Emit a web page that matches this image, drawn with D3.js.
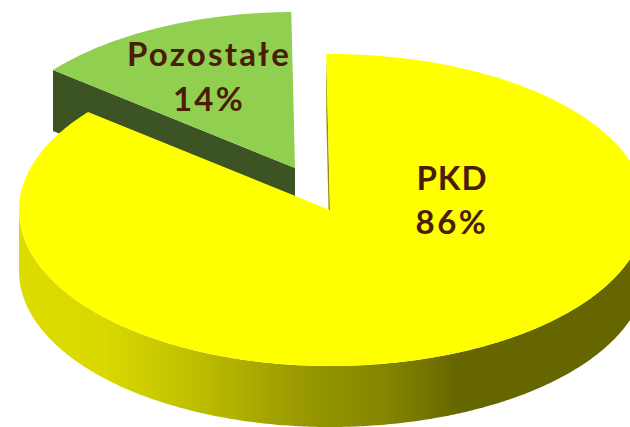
<!DOCTYPE html>
<html><head><meta charset="utf-8">
<script src="https://cdnjs.cloudflare.com/ajax/libs/d3/7.8.5/d3.min.js"></script>
<style>html,body{margin:0;padding:0;background:#fff;overflow:hidden}svg{display:block}</style>
</head><body>
<script>
const categories = ["PKD", "Pozostałe"];
const values = [86, 14];
const pctLabels = ["86%", "14%"];

(function () {
const W = 630, H = 427, depth = 61;
const rxLeft = 311, rxRight = 316, ry = 156, rot = -0.012;
const layout = [
  {cx: 330, cy: 210, fill: "#ffff00", tx: 452, ty1: 190, ty2: 234, ls: [1, 2.5]},
  {cx: 295, cy: 168, fill: "#90cf50", wall: "#3c5323", tx: 209, ty1: 66, ty2: 111, ls: [2.2, 2.2]}
];
const pie = d3.pie().sort(null).startAngle(rot).endAngle(rot + 2 * Math.PI);
const arcs = pie(values);
const svg = d3.select("body").append("svg").attr("width", W).attr("height", H);

const grad = svg.append("defs").append("linearGradient").attr("id", "wallGrad")
  .attr("gradientUnits", "userSpaceOnUse").attr("x1", 19).attr("x2", 630).attr("y1", 0).attr("y2", 0);
[[0, "#dcdc00"], [0.14, "#d9d900"], [0.3, "#bcbc00"], [0.46, "#999900"], [0.6, "#858500"], [0.72, "#666600"], [1, "#666600"]]
  .forEach(([o, c]) => grad.append("stop").attr("offset", o).attr("stop-color", c));

const rim = (l, a, dy = 0) => {
  const s = Math.sin(a);
  return [l.cx + (s > 0 ? rxRight : rxLeft) * s, l.cy - ry * Math.cos(a) + dy];
};
const sweep = (a0, a1) => {
  const n = Math.ceil(Math.abs(a1 - a0) / 0.01);
  return d3.range(n + 1).map(i => a0 + (a1 - a0) * i / n);
};
const drawTop = (d, l) => svg.append("path").attr("fill", l.fill)
  .attr("d", d3.line()([[l.cx, l.cy], ...sweep(d.startAngle, d.endAngle).map(a => rim(l, a))]) + "Z");
const cutFace = (d, l, fill) => {
  const p0 = [l.cx, l.cy], p1 = rim(l, d.startAngle);
  svg.append("path").attr("fill", fill)
    .attr("d", d3.line()([p0, p1, [p1[0], p1[1] + depth], [p0[0], p0[1] + depth]]) + "Z");
};

// Pozostałe: cut face + top
cutFace(arcs[1], layout[1], layout[1].wall);
drawTop(arcs[1], layout[1]);

// PKD: outer wall + cut face + top
{
  const d = arcs[0], l = layout[0];
  const samples = sweep(Math.PI / 2, 3 * Math.PI / 2);
  const pts = samples.map(a => rim(l, a)).concat(samples.slice().reverse().map(a => rim(l, a, depth)));
  svg.append("path").attr("fill", "url(#wallGrad)").attr("d", d3.line()(pts) + "Z");
  cutFace(d, l, "url(#wallGrad)");
  drawTop(d, l);
}
// labels
categories.forEach((c, i) => {
  const l = layout[i];
  [[c, l.ty1, l.ls[0]], [pctLabels[i], l.ty2, l.ls[1]]].forEach(([t, y, ls]) =>
    svg.append("text").attr("x", l.tx).attr("y", y).attr("text-anchor", "middle")
      .attr("font-family", "Lato, sans-serif").attr("font-weight", 700).attr("font-size", 33)
      .attr("letter-spacing", ls).attr("fill", "#4a1e06").text(t));
});
})();
</script>
</body></html>
